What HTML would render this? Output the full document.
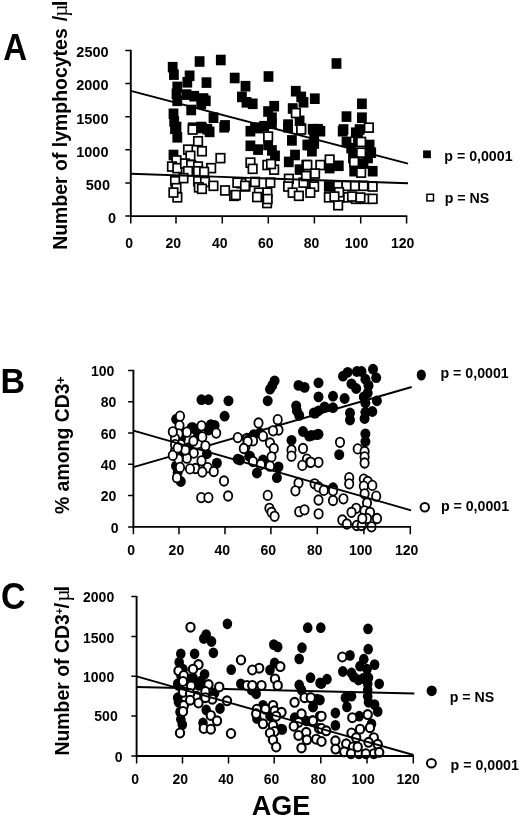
<!DOCTYPE html>
<html lang="en">
<head>
<meta charset="utf-8">
<title>Figure: lymphocytes and CD3+ subsets versus age</title>
<style>
html,body{margin:0;padding:0;background:#fff;}
body{width:520px;height:818px;overflow:hidden;}
svg{display:block;filter:blur(0.3px);font-family:"Liberation Sans",Arial,Helvetica,sans-serif;font-weight:bold;fill:#000;}
.tk{font-size:14px;}
.lg{font-size:14.2px;}
.ax{stroke:#000;stroke-width:1.9;fill:none;}
.ln{stroke:#000;stroke-width:1.9;fill:none;}
.tkm{stroke:#000;stroke-width:1.5;fill:none;}
.fs rect{fill:#000;}
.os rect{fill:#fff;stroke:#000;stroke-width:1.7;}
.fc ellipse{fill:#000;}
.oc ellipse{fill:#fff;stroke:#000;stroke-width:1.8;}
.oc2 ellipse{fill:#fff;stroke:#000;stroke-width:2.1;}
.sym{font-family:"Liberation Serif","DejaVu Serif",serif;font-weight:normal;}
</style>
</head>
<body>
<svg width="520" height="818" viewBox="0 0 520 818">
<rect x="0" y="0" width="520" height="818" fill="#fff"/>

<!-- Panel A -->
<g id="panelA">
<text transform="translate(3.3,59.7) scale(1,1.115)" font-size="33">A</text>
<text transform="translate(66.9,249.8) rotate(-90) scale(0.94,1)" font-size="20.7">Number of lymphocytes</text>
<text transform="translate(66.9,21.3) rotate(-90) scale(0.94,1)" font-size="20.7">/</text>
<text class="sym" transform="translate(67.2,16.8) rotate(-90) scale(1.0,1)" font-size="21.5">µ</text>
<text transform="translate(66.9,6.3) rotate(-90) scale(1.0,1)" font-size="20.7">l</text>
<text class="tk" x="108.6" y="56.7" text-anchor="end" style="font-size:14.5px">2500</text>
<text class="tk" x="108.5" y="90.0" text-anchor="end" style="font-size:14.5px">2000</text>
<text class="tk" x="108.5" y="123.6" text-anchor="end" style="font-size:14.5px">1500</text>
<text class="tk" x="108.5" y="156.9" text-anchor="end" style="font-size:14.5px">1000</text>
<text class="tk" x="110" y="189.9" text-anchor="end" style="font-size:14.5px">500</text>
<text class="tk" x="116" y="223.1" text-anchor="end" style="font-size:14.5px">0</text>
<text class="tk" x="129.2" y="247.7" text-anchor="middle">0</text>
<text class="tk" x="173.2" y="247.7" text-anchor="middle">20</text>
<text class="tk" x="219.7" y="247.7" text-anchor="middle">40</text>
<text class="tk" x="265.8" y="247.7" text-anchor="middle">60</text>
<text class="tk" x="311.5" y="247.7" text-anchor="middle">80</text>
<text class="tk" x="356.5" y="247.7" text-anchor="middle">100</text>
<text class="tk" x="402.7" y="247.7" text-anchor="middle">120</text>
<g class="fs">
<rect x="194.7" y="56.2" width="9.8" height="10.6"/>
<rect x="215.9" y="54.7" width="9.8" height="10.6"/>
<rect x="167.8" y="61.9" width="9.8" height="10.6"/>
<rect x="169.0" y="69.3" width="9.8" height="10.6"/>
<rect x="184.7" y="70.5" width="9.8" height="10.6"/>
<rect x="182.4" y="77.0" width="9.8" height="10.6"/>
<rect x="201.6" y="77.3" width="9.8" height="10.6"/>
<rect x="229.8" y="72.7" width="9.8" height="10.6"/>
<rect x="240.6" y="80.9" width="9.8" height="10.6"/>
<rect x="237.0" y="91.6" width="9.8" height="10.6"/>
<rect x="241.6" y="97.0" width="9.8" height="10.6"/>
<rect x="172.4" y="81.6" width="9.8" height="10.6"/>
<rect x="171.6" y="88.5" width="9.8" height="10.6"/>
<rect x="172.4" y="95.5" width="9.8" height="10.6"/>
<rect x="181.6" y="89.3" width="9.8" height="10.6"/>
<rect x="189.3" y="90.9" width="9.8" height="10.6"/>
<rect x="198.6" y="93.2" width="9.8" height="10.6"/>
<rect x="196.3" y="98.5" width="9.8" height="10.6"/>
<rect x="186.3" y="104.7" width="9.8" height="10.6"/>
<rect x="168.6" y="108.5" width="9.8" height="10.6"/>
<rect x="169.3" y="116.2" width="9.8" height="10.6"/>
<rect x="171.6" y="121.7" width="9.8" height="10.6"/>
<rect x="208.6" y="112.4" width="9.8" height="10.6"/>
<rect x="220.1" y="120.1" width="9.8" height="10.6"/>
<rect x="187.8" y="122.4" width="9.8" height="10.6"/>
<rect x="196.3" y="121.7" width="9.8" height="10.6"/>
<rect x="202.4" y="123.9" width="9.8" height="10.6"/>
<rect x="263.6" y="71.2" width="9.8" height="10.6"/>
<rect x="247.8" y="98.5" width="9.8" height="10.6"/>
<rect x="290.9" y="85.9" width="9.8" height="10.6"/>
<rect x="296.3" y="91.6" width="9.8" height="10.6"/>
<rect x="298.6" y="97.0" width="9.8" height="10.6"/>
<rect x="309.9" y="93.4" width="9.8" height="10.6"/>
<rect x="269.3" y="100.9" width="9.8" height="10.6"/>
<rect x="263.2" y="106.2" width="9.8" height="10.6"/>
<rect x="267.0" y="112.4" width="9.8" height="10.6"/>
<rect x="287.8" y="103.2" width="9.8" height="10.6"/>
<rect x="294.7" y="115.5" width="9.8" height="10.6"/>
<rect x="283.2" y="119.3" width="9.8" height="10.6"/>
<rect x="267.0" y="118.5" width="9.8" height="10.6"/>
<rect x="259.3" y="120.9" width="9.8" height="10.6"/>
<rect x="250.1" y="122.4" width="9.8" height="10.6"/>
<rect x="307.8" y="123.9" width="9.8" height="10.6"/>
<rect x="331.6" y="58.2" width="9.8" height="10.6"/>
<rect x="357.0" y="98.5" width="9.8" height="10.6"/>
<rect x="341.6" y="111.3" width="9.8" height="10.6"/>
<rect x="357.0" y="112.4" width="9.8" height="10.6"/>
<rect x="313.1" y="123.9" width="9.8" height="10.6"/>
<rect x="338.6" y="124.2" width="9.8" height="10.6"/>
<rect x="354.7" y="124.2" width="9.8" height="10.6"/>
<rect x="170.1" y="123.5" width="9.8" height="10.6"/>
<rect x="172.4" y="132.0" width="9.8" height="10.6"/>
<rect x="197.0" y="122.7" width="9.8" height="10.6"/>
<rect x="204.7" y="126.6" width="9.8" height="10.6"/>
<rect x="219.3" y="122.0" width="9.8" height="10.6"/>
<rect x="168.6" y="149.7" width="9.8" height="10.6"/>
<rect x="245.5" y="125.9" width="9.8" height="10.6"/>
<rect x="253.9" y="122.8" width="9.8" height="10.6"/>
<rect x="245.5" y="140.5" width="9.8" height="10.6"/>
<rect x="253.2" y="144.3" width="9.8" height="10.6"/>
<rect x="263.2" y="139.7" width="9.8" height="10.6"/>
<rect x="267.0" y="145.1" width="9.8" height="10.6"/>
<rect x="270.1" y="150.5" width="9.8" height="10.6"/>
<rect x="283.2" y="122.0" width="9.8" height="10.6"/>
<rect x="287.0" y="135.1" width="9.8" height="10.6"/>
<rect x="290.1" y="149.7" width="9.8" height="10.6"/>
<rect x="283.9" y="156.6" width="9.8" height="10.6"/>
<rect x="294.7" y="164.3" width="9.8" height="10.6"/>
<rect x="302.4" y="139.7" width="9.8" height="10.6"/>
<rect x="307.0" y="145.9" width="9.8" height="10.6"/>
<rect x="309.3" y="128.9" width="9.8" height="10.6"/>
<rect x="315.5" y="125.9" width="9.8" height="10.6"/>
<rect x="304.7" y="139.7" width="9.8" height="10.6"/>
<rect x="309.3" y="138.2" width="9.8" height="10.6"/>
<rect x="337.8" y="125.9" width="9.8" height="10.6"/>
<rect x="350.9" y="127.4" width="9.8" height="10.6"/>
<rect x="341.6" y="136.6" width="9.8" height="10.6"/>
<rect x="346.3" y="142.8" width="9.8" height="10.6"/>
<rect x="353.1" y="134.7" width="9.8" height="10.6"/>
<rect x="364.7" y="139.7" width="9.8" height="10.6"/>
<rect x="366.3" y="147.4" width="9.8" height="10.6"/>
<rect x="324.7" y="162.8" width="9.8" height="10.6"/>
<rect x="333.9" y="160.5" width="9.8" height="10.6"/>
<rect x="358.6" y="158.2" width="9.8" height="10.6"/>
<rect x="367.8" y="165.9" width="9.8" height="10.6"/>
<rect x="349.3" y="165.9" width="9.8" height="10.6"/>
<rect x="323.9" y="181.2" width="9.8" height="10.6"/>
<rect x="363.1" y="152.7" width="9.8" height="10.6"/>
<rect x="348.1" y="152.7" width="9.8" height="10.6"/>
<rect x="200.9" y="95.5" width="9.8" height="10.6"/>
</g>
<path class="ln" d="M130.8 90.8L408 163.7"/>
<g class="os">
<rect x="291.6" y="108.6" width="8.5" height="8.9"/>
<rect x="296.9" y="124.0" width="8.5" height="8.9"/>
<rect x="364.6" y="123.2" width="8.5" height="8.9"/>
<rect x="188.4" y="125.1" width="8.5" height="8.9"/>
<rect x="193.8" y="136.8" width="8.5" height="8.9"/>
<rect x="183.8" y="145.2" width="8.5" height="8.9"/>
<rect x="197.7" y="146.8" width="8.5" height="8.9"/>
<rect x="186.2" y="151.4" width="8.5" height="8.9"/>
<rect x="172.2" y="156.0" width="8.5" height="8.9"/>
<rect x="216.2" y="153.7" width="8.5" height="8.9"/>
<rect x="167.7" y="162.1" width="8.5" height="8.9"/>
<rect x="173.1" y="163.7" width="8.5" height="8.9"/>
<rect x="180.8" y="159.1" width="8.5" height="8.9"/>
<rect x="186.9" y="160.6" width="8.5" height="8.9"/>
<rect x="193.8" y="162.1" width="8.5" height="8.9"/>
<rect x="206.9" y="163.7" width="8.5" height="8.9"/>
<rect x="183.8" y="166.8" width="8.5" height="8.9"/>
<rect x="193.8" y="166.8" width="8.5" height="8.9"/>
<rect x="199.9" y="167.5" width="8.5" height="8.9"/>
<rect x="179.2" y="173.7" width="8.5" height="8.9"/>
<rect x="170.8" y="176.8" width="8.5" height="8.9"/>
<rect x="193.8" y="176.8" width="8.5" height="8.9"/>
<rect x="200.8" y="177.5" width="8.5" height="8.9"/>
<rect x="209.2" y="181.4" width="8.5" height="8.9"/>
<rect x="172.2" y="183.7" width="8.5" height="8.9"/>
<rect x="194.6" y="182.9" width="8.5" height="8.9"/>
<rect x="197.7" y="184.4" width="8.5" height="8.9"/>
<rect x="220.8" y="186.0" width="8.5" height="8.9"/>
<rect x="173.1" y="192.9" width="8.5" height="8.9"/>
<rect x="229.9" y="191.4" width="8.5" height="8.9"/>
<rect x="237.2" y="178.8" width="8.5" height="8.9"/>
<rect x="241.2" y="182.0" width="8.5" height="8.9"/>
<rect x="169.2" y="188.1" width="8.5" height="8.9"/>
<rect x="263.9" y="132.1" width="8.5" height="8.9"/>
<rect x="296.9" y="125.1" width="8.5" height="8.9"/>
<rect x="246.2" y="158.2" width="8.5" height="8.9"/>
<rect x="248.4" y="164.4" width="8.5" height="8.9"/>
<rect x="263.1" y="160.6" width="8.5" height="8.9"/>
<rect x="269.9" y="165.2" width="8.5" height="8.9"/>
<rect x="266.8" y="159.6" width="8.5" height="8.9"/>
<rect x="302.2" y="160.6" width="8.5" height="8.9"/>
<rect x="233.1" y="178.2" width="8.5" height="8.9"/>
<rect x="240.8" y="181.4" width="8.5" height="8.9"/>
<rect x="250.8" y="177.5" width="8.5" height="8.9"/>
<rect x="266.1" y="178.2" width="8.5" height="8.9"/>
<rect x="284.6" y="174.4" width="8.5" height="8.9"/>
<rect x="283.9" y="182.1" width="8.5" height="8.9"/>
<rect x="299.2" y="178.2" width="8.5" height="8.9"/>
<rect x="309.2" y="180.6" width="8.5" height="8.9"/>
<rect x="254.6" y="188.2" width="8.5" height="8.9"/>
<rect x="263.1" y="188.2" width="8.5" height="8.9"/>
<rect x="231.6" y="190.6" width="8.5" height="8.9"/>
<rect x="288.4" y="188.2" width="8.5" height="8.9"/>
<rect x="294.6" y="191.4" width="8.5" height="8.9"/>
<rect x="262.8" y="198.6" width="8.5" height="8.9"/>
<rect x="263.4" y="194.6" width="8.5" height="8.9"/>
<rect x="252.8" y="192.6" width="8.5" height="8.9"/>
<rect x="356.9" y="137.5" width="8.5" height="8.9"/>
<rect x="356.9" y="148.2" width="8.5" height="8.9"/>
<rect x="325.4" y="155.2" width="8.5" height="8.9"/>
<rect x="349.9" y="157.5" width="8.5" height="8.9"/>
<rect x="303.1" y="160.6" width="8.5" height="8.9"/>
<rect x="316.1" y="160.6" width="8.5" height="8.9"/>
<rect x="310.8" y="169.1" width="8.5" height="8.9"/>
<rect x="356.9" y="168.2" width="8.5" height="8.9"/>
<rect x="309.9" y="182.1" width="8.5" height="8.9"/>
<rect x="306.1" y="188.2" width="8.5" height="8.9"/>
<rect x="333.9" y="181.4" width="8.5" height="8.9"/>
<rect x="342.2" y="181.4" width="8.5" height="8.9"/>
<rect x="350.8" y="181.4" width="8.5" height="8.9"/>
<rect x="359.2" y="181.4" width="8.5" height="8.9"/>
<rect x="368.4" y="182.1" width="8.5" height="8.9"/>
<rect x="324.6" y="192.9" width="8.5" height="8.9"/>
<rect x="335.4" y="192.9" width="8.5" height="8.9"/>
<rect x="343.9" y="192.9" width="8.5" height="8.9"/>
<rect x="351.6" y="194.4" width="8.5" height="8.9"/>
<rect x="360.8" y="194.4" width="8.5" height="8.9"/>
<rect x="368.4" y="194.4" width="8.5" height="8.9"/>
<rect x="301.8" y="171.6" width="8.5" height="8.9"/>
<rect x="333.9" y="200.8" width="8.5" height="8.9"/>
<rect x="334.8" y="187.8" width="8.5" height="8.9"/>
<rect x="330.2" y="192.1" width="8.5" height="8.9"/>
<rect x="347.8" y="192.1" width="8.5" height="8.9"/>
<rect x="356.2" y="193.1" width="8.5" height="8.9"/>
</g>
<path class="ax" d="M130.8 49.699999999999996V216.1H407.3"/>
<path class="tkm" d="M125.3 50.4H130.8M125.3 83.5H130.8M125.3 116.7H130.8M125.3 149.8H130.8M125.3 183.0H130.8M125.3 216.1H130.8M130.8 216.1V223.4M176.0 216.1V223.4M222.3 216.1V223.4M268.3 216.1V223.4M314.4 216.1V223.4M360.7 216.1V223.4M406.6 216.1V223.4"/>
<path class="ln" d="M130.8 173.8L408 183.3"/>
<rect x="423.1" y="150.4" width="7.8" height="7.8"/>
<text class="lg" x="444.3" y="161.2">p = 0,0001</text>
<rect x="426.9" y="194.3" width="6.6" height="6.6" fill="#fff" stroke="#000" stroke-width="1.5"/>
<text class="lg" x="444.7" y="203">p = NS</text>
</g>
<!-- Panel B -->
<g id="panelB">
<text transform="translate(0.4,392.9) scale(1,1.05)" font-size="34">B</text>
<text transform="translate(68.9,514.1) rotate(-90) scale(0.958,1)" font-size="20.3">% among CD3</text>
<text transform="translate(64.5,384.1) rotate(-90) scale(1.0,1)" font-size="13">+</text>
<text class="tk" x="114.3" y="376.1" text-anchor="end">100</text>
<text class="tk" x="116.3" y="407.4" text-anchor="end">80</text>
<text class="tk" x="116.3" y="438.7" text-anchor="end">60</text>
<text class="tk" x="116.3" y="469.9" text-anchor="end">40</text>
<text class="tk" x="116.3" y="501.2" text-anchor="end">20</text>
<text class="tk" x="118.5" y="532.5" text-anchor="end">0</text>
<text class="tk" x="131.2" y="554.6" text-anchor="middle">0</text>
<text class="tk" x="176.4" y="554.6" text-anchor="middle">20</text>
<text class="tk" x="222.3" y="554.6" text-anchor="middle">40</text>
<text class="tk" x="268.3" y="554.6" text-anchor="middle">60</text>
<text class="tk" x="314.8" y="554.6" text-anchor="middle">80</text>
<text class="tk" x="360.6" y="554.6" text-anchor="middle">100</text>
<text class="tk" x="406.6" y="554.6" text-anchor="middle">120</text>
<g class="fc">
<ellipse cx="201.5" cy="399.7" rx="5.0" ry="5.4"/>
<ellipse cx="208.5" cy="399.7" rx="5.0" ry="5.4"/>
<ellipse cx="228.5" cy="400.8" rx="5.0" ry="5.4"/>
<ellipse cx="224.6" cy="416.2" rx="5.0" ry="5.4"/>
<ellipse cx="176.2" cy="419.2" rx="5.0" ry="5.4"/>
<ellipse cx="191.5" cy="427.7" rx="5.0" ry="5.4"/>
<ellipse cx="210.8" cy="424.6" rx="5.0" ry="5.4"/>
<ellipse cx="214.6" cy="425.4" rx="5.0" ry="5.4"/>
<ellipse cx="196.0" cy="430.0" rx="5.0" ry="5.4"/>
<ellipse cx="208.5" cy="430.0" rx="5.0" ry="5.4"/>
<ellipse cx="193.0" cy="427.7" rx="5.0" ry="5.4"/>
<ellipse cx="211.5" cy="425.4" rx="5.0" ry="5.4"/>
<ellipse cx="206.9" cy="453.8" rx="5.0" ry="5.4"/>
<ellipse cx="183.8" cy="451.5" rx="5.0" ry="5.4"/>
<ellipse cx="216.9" cy="463.1" rx="5.0" ry="5.4"/>
<ellipse cx="237.7" cy="459.2" rx="5.0" ry="5.4"/>
<ellipse cx="249.2" cy="456.2" rx="5.0" ry="5.4"/>
<ellipse cx="177.7" cy="472.3" rx="5.0" ry="5.4"/>
<ellipse cx="180.8" cy="481.5" rx="5.0" ry="5.4"/>
<ellipse cx="176.0" cy="466.0" rx="5.0" ry="5.4"/>
<ellipse cx="188.5" cy="447.7" rx="5.0" ry="5.4"/>
<ellipse cx="198.5" cy="435.4" rx="5.0" ry="5.4"/>
<ellipse cx="274.6" cy="380.8" rx="5.0" ry="5.4"/>
<ellipse cx="272.3" cy="385.4" rx="5.0" ry="5.4"/>
<ellipse cx="270.0" cy="389.2" rx="5.0" ry="5.4"/>
<ellipse cx="267.7" cy="400.8" rx="5.0" ry="5.4"/>
<ellipse cx="298.5" cy="385.4" rx="5.0" ry="5.4"/>
<ellipse cx="304.6" cy="387.4" rx="5.0" ry="5.4"/>
<ellipse cx="318.5" cy="382.8" rx="5.0" ry="5.4"/>
<ellipse cx="318.5" cy="396.9" rx="5.0" ry="5.4"/>
<ellipse cx="296.2" cy="405.8" rx="5.0" ry="5.4"/>
<ellipse cx="296.9" cy="410.8" rx="5.0" ry="5.4"/>
<ellipse cx="299.2" cy="415.4" rx="5.0" ry="5.4"/>
<ellipse cx="315.4" cy="413.1" rx="5.0" ry="5.4"/>
<ellipse cx="303.0" cy="431.5" rx="5.0" ry="5.4"/>
<ellipse cx="309.2" cy="436.2" rx="5.0" ry="5.4"/>
<ellipse cx="316.9" cy="434.6" rx="5.0" ry="5.4"/>
<ellipse cx="291.5" cy="440.3" rx="5.0" ry="5.4"/>
<ellipse cx="253.8" cy="434.6" rx="5.0" ry="5.4"/>
<ellipse cx="260.0" cy="433.0" rx="5.0" ry="5.4"/>
<ellipse cx="250.0" cy="456.2" rx="5.0" ry="5.4"/>
<ellipse cx="263.0" cy="460.0" rx="5.0" ry="5.4"/>
<ellipse cx="278.5" cy="466.9" rx="5.0" ry="5.4"/>
<ellipse cx="256.9" cy="473.0" rx="5.0" ry="5.4"/>
<ellipse cx="276.9" cy="477.7" rx="5.0" ry="5.4"/>
<ellipse cx="240.0" cy="460.0" rx="5.0" ry="5.4"/>
<ellipse cx="333.0" cy="396.2" rx="5.0" ry="5.4"/>
<ellipse cx="344.6" cy="398.5" rx="5.0" ry="5.4"/>
<ellipse cx="324.6" cy="406.9" rx="5.0" ry="5.4"/>
<ellipse cx="333.0" cy="407.7" rx="5.0" ry="5.4"/>
<ellipse cx="318.5" cy="410.8" rx="5.0" ry="5.4"/>
<ellipse cx="313.8" cy="413.0" rx="5.0" ry="5.4"/>
<ellipse cx="343.0" cy="376.2" rx="5.0" ry="5.4"/>
<ellipse cx="347.7" cy="372.3" rx="5.0" ry="5.4"/>
<ellipse cx="356.9" cy="371.5" rx="5.0" ry="5.4"/>
<ellipse cx="361.5" cy="371.5" rx="5.0" ry="5.4"/>
<ellipse cx="373.0" cy="369.2" rx="5.0" ry="5.4"/>
<ellipse cx="376.2" cy="377.7" rx="5.0" ry="5.4"/>
<ellipse cx="365.4" cy="379.2" rx="5.0" ry="5.4"/>
<ellipse cx="351.5" cy="383.8" rx="5.0" ry="5.4"/>
<ellipse cx="356.2" cy="388.5" rx="5.0" ry="5.4"/>
<ellipse cx="368.5" cy="385.4" rx="5.0" ry="5.4"/>
<ellipse cx="367.7" cy="393.0" rx="5.0" ry="5.4"/>
<ellipse cx="363.8" cy="396.9" rx="5.0" ry="5.4"/>
<ellipse cx="365.4" cy="403.0" rx="5.0" ry="5.4"/>
<ellipse cx="376.9" cy="400.8" rx="5.0" ry="5.4"/>
<ellipse cx="372.3" cy="411.5" rx="5.0" ry="5.4"/>
<ellipse cx="365.4" cy="412.3" rx="5.0" ry="5.4"/>
<ellipse cx="364.6" cy="418.5" rx="5.0" ry="5.4"/>
<ellipse cx="350.0" cy="413.0" rx="5.0" ry="5.4"/>
<ellipse cx="350.0" cy="420.0" rx="5.0" ry="5.4"/>
<ellipse cx="365.4" cy="433.8" rx="5.0" ry="5.4"/>
<ellipse cx="318.5" cy="434.2" rx="5.0" ry="5.4"/>
<ellipse cx="311.5" cy="435.4" rx="5.0" ry="5.4"/>
<ellipse cx="365.4" cy="441.5" rx="5.0" ry="5.4"/>
<ellipse cx="339.2" cy="454.6" rx="5.0" ry="5.4"/>
<ellipse cx="333.0" cy="487.7" rx="5.0" ry="5.4"/>
<ellipse cx="181.0" cy="438.5" rx="5.0" ry="5.4"/>
<ellipse cx="179.0" cy="455.0" rx="5.0" ry="5.4"/>
</g>
<path class="ln" d="M133.4 467.1L411.7 387"/>
<g class="oc">
<ellipse cx="180.0" cy="416.2" rx="4.15" ry="4.75"/>
<ellipse cx="179.5" cy="425.6" rx="4.15" ry="4.75"/>
<ellipse cx="201.5" cy="425.8" rx="4.15" ry="4.75"/>
<ellipse cx="186.9" cy="432.2" rx="4.15" ry="4.75"/>
<ellipse cx="178.5" cy="433.8" rx="4.15" ry="4.75"/>
<ellipse cx="216.2" cy="433.1" rx="4.15" ry="4.75"/>
<ellipse cx="202.3" cy="436.9" rx="4.15" ry="4.75"/>
<ellipse cx="237.7" cy="437.6" rx="4.15" ry="4.75"/>
<ellipse cx="193.4" cy="441.0" rx="4.15" ry="4.75"/>
<ellipse cx="175.0" cy="438.5" rx="4.15" ry="4.75"/>
<ellipse cx="247.0" cy="438.5" rx="4.15" ry="4.75"/>
<ellipse cx="180.7" cy="444.5" rx="4.15" ry="4.75"/>
<ellipse cx="205.4" cy="445.8" rx="4.15" ry="4.75"/>
<ellipse cx="175.0" cy="451.0" rx="4.15" ry="4.75"/>
<ellipse cx="193.8" cy="453.1" rx="4.15" ry="4.75"/>
<ellipse cx="186.9" cy="458.2" rx="4.15" ry="4.75"/>
<ellipse cx="178.5" cy="459.2" rx="4.15" ry="4.75"/>
<ellipse cx="201.5" cy="460.8" rx="4.15" ry="4.75"/>
<ellipse cx="180.0" cy="467.4" rx="4.15" ry="4.75"/>
<ellipse cx="195.4" cy="468.5" rx="4.15" ry="4.75"/>
<ellipse cx="190.0" cy="468.9" rx="4.15" ry="4.75"/>
<ellipse cx="207.7" cy="467.7" rx="4.15" ry="4.75"/>
<ellipse cx="202.3" cy="472.0" rx="4.15" ry="4.75"/>
<ellipse cx="213.8" cy="471.5" rx="4.15" ry="4.75"/>
<ellipse cx="176.9" cy="477.7" rx="4.15" ry="4.75"/>
<ellipse cx="224.0" cy="481.0" rx="4.15" ry="4.75"/>
<ellipse cx="201.2" cy="497.6" rx="4.15" ry="4.75"/>
<ellipse cx="208.4" cy="497.6" rx="4.15" ry="4.75"/>
<ellipse cx="228.1" cy="496.0" rx="4.15" ry="4.75"/>
<ellipse cx="245.4" cy="447.0" rx="4.15" ry="4.75"/>
<ellipse cx="248.5" cy="440.0" rx="4.15" ry="4.75"/>
<ellipse cx="277.7" cy="419.7" rx="4.15" ry="4.75"/>
<ellipse cx="258.5" cy="423.0" rx="4.15" ry="4.75"/>
<ellipse cx="278.5" cy="430.0" rx="4.15" ry="4.75"/>
<ellipse cx="273.0" cy="430.8" rx="4.15" ry="4.75"/>
<ellipse cx="263.0" cy="436.2" rx="4.15" ry="4.75"/>
<ellipse cx="253.0" cy="440.8" rx="4.15" ry="4.75"/>
<ellipse cx="247.7" cy="441.5" rx="4.15" ry="4.75"/>
<ellipse cx="243.8" cy="448.5" rx="4.15" ry="4.75"/>
<ellipse cx="270.0" cy="443.0" rx="4.15" ry="4.75"/>
<ellipse cx="273.8" cy="448.5" rx="4.15" ry="4.75"/>
<ellipse cx="271.5" cy="456.9" rx="4.15" ry="4.75"/>
<ellipse cx="253.0" cy="461.5" rx="4.15" ry="4.75"/>
<ellipse cx="260.8" cy="464.6" rx="4.15" ry="4.75"/>
<ellipse cx="270.0" cy="466.2" rx="4.15" ry="4.75"/>
<ellipse cx="291.5" cy="450.0" rx="4.15" ry="4.75"/>
<ellipse cx="291.5" cy="456.2" rx="4.15" ry="4.75"/>
<ellipse cx="303.0" cy="448.5" rx="4.15" ry="4.75"/>
<ellipse cx="306.9" cy="459.2" rx="4.15" ry="4.75"/>
<ellipse cx="310.0" cy="462.3" rx="4.15" ry="4.75"/>
<ellipse cx="302.3" cy="465.4" rx="4.15" ry="4.75"/>
<ellipse cx="318.5" cy="462.3" rx="4.15" ry="4.75"/>
<ellipse cx="298.5" cy="483.0" rx="4.15" ry="4.75"/>
<ellipse cx="295.4" cy="490.8" rx="4.15" ry="4.75"/>
<ellipse cx="314.6" cy="483.8" rx="4.15" ry="4.75"/>
<ellipse cx="318.5" cy="486.9" rx="4.15" ry="4.75"/>
<ellipse cx="267.7" cy="495.4" rx="4.15" ry="4.75"/>
<ellipse cx="340.0" cy="442.3" rx="4.15" ry="4.75"/>
<ellipse cx="357.7" cy="448.9" rx="4.15" ry="4.75"/>
<ellipse cx="364.6" cy="451.5" rx="4.15" ry="4.75"/>
<ellipse cx="364.6" cy="456.9" rx="4.15" ry="4.75"/>
<ellipse cx="364.6" cy="463.0" rx="4.15" ry="4.75"/>
<ellipse cx="310.8" cy="462.3" rx="4.15" ry="4.75"/>
<ellipse cx="349.2" cy="477.7" rx="4.15" ry="4.75"/>
<ellipse cx="349.2" cy="483.8" rx="4.15" ry="4.75"/>
<ellipse cx="363.8" cy="479.2" rx="4.15" ry="4.75"/>
<ellipse cx="367.7" cy="481.5" rx="4.15" ry="4.75"/>
<ellipse cx="372.3" cy="485.4" rx="4.15" ry="4.75"/>
<ellipse cx="363.8" cy="486.2" rx="4.15" ry="4.75"/>
<ellipse cx="323.8" cy="490.4" rx="4.15" ry="4.75"/>
<ellipse cx="333.0" cy="490.8" rx="4.15" ry="4.75"/>
<ellipse cx="364.6" cy="493.8" rx="4.15" ry="4.75"/>
<ellipse cx="376.2" cy="496.2" rx="4.15" ry="4.75"/>
<ellipse cx="343.4" cy="498.8" rx="4.15" ry="4.75"/>
<ellipse cx="318.5" cy="500.0" rx="4.15" ry="4.75"/>
<ellipse cx="333.0" cy="500.5" rx="4.15" ry="4.75"/>
<ellipse cx="269.4" cy="508.3" rx="4.15" ry="4.75"/>
<ellipse cx="271.5" cy="512.3" rx="4.15" ry="4.75"/>
<ellipse cx="274.6" cy="516.3" rx="4.15" ry="4.75"/>
<ellipse cx="299.2" cy="511.7" rx="4.15" ry="4.75"/>
<ellipse cx="304.5" cy="509.8" rx="4.15" ry="4.75"/>
<ellipse cx="318.6" cy="513.8" rx="4.15" ry="4.75"/>
<ellipse cx="367.0" cy="503.0" rx="4.15" ry="4.75"/>
<ellipse cx="356.2" cy="508.3" rx="4.15" ry="4.75"/>
<ellipse cx="351.5" cy="512.3" rx="4.15" ry="4.75"/>
<ellipse cx="364.5" cy="510.8" rx="4.15" ry="4.75"/>
<ellipse cx="370.0" cy="512.3" rx="4.15" ry="4.75"/>
<ellipse cx="377.0" cy="518.5" rx="4.15" ry="4.75"/>
<ellipse cx="367.0" cy="518.5" rx="4.15" ry="4.75"/>
<ellipse cx="342.3" cy="520.0" rx="4.15" ry="4.75"/>
<ellipse cx="346.9" cy="524.0" rx="4.15" ry="4.75"/>
<ellipse cx="356.8" cy="525.5" rx="4.15" ry="4.75"/>
<ellipse cx="361.7" cy="525.5" rx="4.15" ry="4.75"/>
<ellipse cx="371.5" cy="526.8" rx="4.15" ry="4.75"/>
<ellipse cx="362.3" cy="518.5" rx="4.15" ry="4.75"/>
<ellipse cx="172.8" cy="431.8" rx="4.15" ry="4.75"/>
<ellipse cx="175.0" cy="444.6" rx="4.15" ry="4.75"/>
<ellipse cx="185.3" cy="450.0" rx="4.15" ry="4.75"/>
<ellipse cx="172.8" cy="455.4" rx="4.15" ry="4.75"/>
<ellipse cx="177.7" cy="447.9" rx="4.15" ry="4.75"/>
</g>
<path class="ax" d="M133.4 369.8V526.9H411.0"/>
<path class="tkm" d="M128.1 370.5H133.4M128.1 401.8H133.4M128.1 433.1H133.4M128.1 464.3H133.4M128.1 495.6H133.4M128.1 526.9H133.4M133.4 526.9V534.3M179.0 526.9V534.3M225.0 526.9V534.3M270.9 526.9V534.3M317.3 526.9V534.3M363.9 526.9V534.3M410.3 526.9V534.3"/>
<path class="ln" d="M133.4 430.6L411.1 510.3"/>
<ellipse cx="421.3" cy="375" rx="4.6" ry="5.5"/>
<text class="lg" x="440.5" y="378">p = 0,0001</text>
<ellipse cx="424.8" cy="507.3" rx="4.2" ry="4.3" fill="#fff" stroke="#000" stroke-width="2"/>
<text class="lg" x="440.9" y="510.8">p = 0,0001</text>
</g>
<!-- Panel C -->
<g id="panelC">
<text transform="translate(1.0,609.3) scale(1,1.06)" font-size="34">C</text>
<text transform="translate(68.9,755.6) rotate(-90) scale(0.958,1)" font-size="20.3">Number of CD3</text>
<text transform="translate(63.2,614.3) rotate(-90) scale(1.0,1)" font-size="10.5">+</text>
<text transform="translate(68.9,608.6) rotate(-90) scale(1.0,1)" font-size="20.3">/</text>
<text class="sym" transform="translate(69.2,601.6) rotate(-90) scale(1.0,1)" font-size="21">µ</text>
<text transform="translate(68.9,591.6) rotate(-90) scale(1.0,1)" font-size="20.3">l</text>
<text class="tk" x="114.2" y="602.2" text-anchor="end">2000</text>
<text class="tk" x="114.2" y="642.6" text-anchor="end">1500</text>
<text class="tk" x="114.2" y="682.4" text-anchor="end">1000</text>
<text class="tk" x="117.7" y="721.1" text-anchor="end">500</text>
<text class="tk" x="122.5" y="761.8" text-anchor="end">0</text>
<text class="tk" x="135.2" y="783.8" text-anchor="middle">0</text>
<text class="tk" x="180.2" y="783.8" text-anchor="middle">20</text>
<text class="tk" x="226.0" y="783.8" text-anchor="middle">40</text>
<text class="tk" x="271.6" y="783.8" text-anchor="middle">60</text>
<text class="tk" x="318.4" y="783.8" text-anchor="middle">80</text>
<text class="tk" x="363.2" y="783.8" text-anchor="middle">100</text>
<text class="tk" x="408.1" y="783.8" text-anchor="middle">120</text>
<g class="fc">
<ellipse cx="227.4" cy="623.8" rx="4.8" ry="5.4"/>
<ellipse cx="206.2" cy="634.6" rx="4.8" ry="5.4"/>
<ellipse cx="203.8" cy="638.5" rx="4.8" ry="5.4"/>
<ellipse cx="211.5" cy="641.5" rx="4.8" ry="5.4"/>
<ellipse cx="213.4" cy="652.8" rx="4.8" ry="5.4"/>
<ellipse cx="180.8" cy="653.8" rx="4.8" ry="5.4"/>
<ellipse cx="194.6" cy="653.8" rx="4.8" ry="5.4"/>
<ellipse cx="179.2" cy="662.3" rx="4.8" ry="5.4"/>
<ellipse cx="231.2" cy="669.7" rx="4.8" ry="5.4"/>
<ellipse cx="204.6" cy="674.3" rx="4.8" ry="5.4"/>
<ellipse cx="183.0" cy="669.2" rx="4.8" ry="5.4"/>
<ellipse cx="193.0" cy="677.7" rx="4.8" ry="5.4"/>
<ellipse cx="240.8" cy="683.8" rx="4.8" ry="5.4"/>
<ellipse cx="177.7" cy="683.8" rx="4.8" ry="5.4"/>
<ellipse cx="196.2" cy="683.8" rx="4.8" ry="5.4"/>
<ellipse cx="201.0" cy="681.0" rx="4.8" ry="5.4"/>
<ellipse cx="190.0" cy="679.2" rx="4.8" ry="5.4"/>
<ellipse cx="199.2" cy="685.4" rx="4.8" ry="5.4"/>
<ellipse cx="214.6" cy="693.0" rx="4.8" ry="5.4"/>
<ellipse cx="220.0" cy="708.5" rx="4.8" ry="5.4"/>
<ellipse cx="206.2" cy="710.0" rx="4.8" ry="5.4"/>
<ellipse cx="178.5" cy="702.3" rx="4.8" ry="5.4"/>
<ellipse cx="180.8" cy="719.2" rx="4.8" ry="5.4"/>
<ellipse cx="182.3" cy="724.6" rx="4.8" ry="5.4"/>
<ellipse cx="203.0" cy="723.0" rx="4.8" ry="5.4"/>
<ellipse cx="178.5" cy="685.4" rx="4.8" ry="5.4"/>
<ellipse cx="177.7" cy="697.7" rx="4.8" ry="5.4"/>
<ellipse cx="180.0" cy="712.0" rx="4.8" ry="5.4"/>
<ellipse cx="181.0" cy="676.0" rx="4.8" ry="5.4"/>
<ellipse cx="307.7" cy="627.7" rx="4.8" ry="5.4"/>
<ellipse cx="320.8" cy="627.7" rx="4.8" ry="5.4"/>
<ellipse cx="273.8" cy="644.6" rx="4.8" ry="5.4"/>
<ellipse cx="277.7" cy="646.9" rx="4.8" ry="5.4"/>
<ellipse cx="302.0" cy="647.7" rx="4.8" ry="5.4"/>
<ellipse cx="299.2" cy="658.9" rx="4.8" ry="5.4"/>
<ellipse cx="274.6" cy="663.0" rx="4.8" ry="5.4"/>
<ellipse cx="270.0" cy="670.0" rx="4.8" ry="5.4"/>
<ellipse cx="310.5" cy="677.7" rx="4.8" ry="5.4"/>
<ellipse cx="299.2" cy="685.0" rx="4.8" ry="5.4"/>
<ellipse cx="320.0" cy="683.0" rx="4.8" ry="5.4"/>
<ellipse cx="256.2" cy="693.8" rx="4.8" ry="5.4"/>
<ellipse cx="251.5" cy="690.0" rx="4.8" ry="5.4"/>
<ellipse cx="301.5" cy="690.0" rx="4.8" ry="5.4"/>
<ellipse cx="313.0" cy="706.9" rx="4.8" ry="5.4"/>
<ellipse cx="317.0" cy="699.2" rx="4.8" ry="5.4"/>
<ellipse cx="263.0" cy="705.4" rx="4.8" ry="5.4"/>
<ellipse cx="256.9" cy="718.5" rx="4.8" ry="5.4"/>
<ellipse cx="294.6" cy="717.7" rx="4.8" ry="5.4"/>
<ellipse cx="306.2" cy="720.8" rx="4.8" ry="5.4"/>
<ellipse cx="280.8" cy="729.2" rx="4.8" ry="5.4"/>
<ellipse cx="270.0" cy="716.0" rx="4.8" ry="5.4"/>
<ellipse cx="368.0" cy="628.9" rx="4.8" ry="5.4"/>
<ellipse cx="368.2" cy="649.2" rx="4.8" ry="5.4"/>
<ellipse cx="350.0" cy="655.4" rx="4.8" ry="5.4"/>
<ellipse cx="363.8" cy="659.2" rx="4.8" ry="5.4"/>
<ellipse cx="374.6" cy="664.6" rx="4.8" ry="5.4"/>
<ellipse cx="360.0" cy="666.2" rx="4.8" ry="5.4"/>
<ellipse cx="367.0" cy="669.2" rx="4.8" ry="5.4"/>
<ellipse cx="342.8" cy="671.5" rx="4.8" ry="5.4"/>
<ellipse cx="351.5" cy="673.0" rx="4.8" ry="5.4"/>
<ellipse cx="353.8" cy="677.0" rx="4.8" ry="5.4"/>
<ellipse cx="358.5" cy="680.0" rx="4.8" ry="5.4"/>
<ellipse cx="368.5" cy="677.7" rx="4.8" ry="5.4"/>
<ellipse cx="367.7" cy="683.8" rx="4.8" ry="5.4"/>
<ellipse cx="379.2" cy="683.8" rx="4.8" ry="5.4"/>
<ellipse cx="327.0" cy="679.2" rx="4.8" ry="5.4"/>
<ellipse cx="321.5" cy="683.5" rx="4.8" ry="5.4"/>
<ellipse cx="367.7" cy="690.0" rx="4.8" ry="5.4"/>
<ellipse cx="367.7" cy="696.2" rx="4.8" ry="5.4"/>
<ellipse cx="368.5" cy="702.3" rx="4.8" ry="5.4"/>
<ellipse cx="374.6" cy="704.6" rx="4.8" ry="5.4"/>
<ellipse cx="377.7" cy="711.5" rx="4.8" ry="5.4"/>
<ellipse cx="351.5" cy="696.2" rx="4.8" ry="5.4"/>
<ellipse cx="345.4" cy="697.7" rx="4.8" ry="5.4"/>
<ellipse cx="346.9" cy="706.9" rx="4.8" ry="5.4"/>
<ellipse cx="320.0" cy="700.0" rx="4.8" ry="5.4"/>
<ellipse cx="313.0" cy="706.9" rx="4.8" ry="5.4"/>
<ellipse cx="335.4" cy="713.0" rx="4.8" ry="5.4"/>
<ellipse cx="335.4" cy="725.4" rx="4.8" ry="5.4"/>
<ellipse cx="359.2" cy="716.2" rx="4.8" ry="5.4"/>
<ellipse cx="371.5" cy="723.8" rx="4.8" ry="5.4"/>
<ellipse cx="282.3" cy="729.4" rx="4.8" ry="5.4"/>
<ellipse cx="363.0" cy="678.5" rx="4.8" ry="5.4"/>
</g>
<path class="ln" d="M136.6 687L414.3 693.5"/>
<g class="oc2">
<ellipse cx="190.5" cy="627.2" rx="4.15" ry="4.45"/>
<ellipse cx="241.0" cy="660.0" rx="4.15" ry="4.45"/>
<ellipse cx="198.5" cy="664.6" rx="4.15" ry="4.45"/>
<ellipse cx="193.0" cy="669.2" rx="4.15" ry="4.45"/>
<ellipse cx="178.5" cy="670.8" rx="4.15" ry="4.45"/>
<ellipse cx="183.8" cy="675.4" rx="4.15" ry="4.45"/>
<ellipse cx="183.0" cy="681.5" rx="4.15" ry="4.45"/>
<ellipse cx="208.5" cy="684.6" rx="4.15" ry="4.45"/>
<ellipse cx="219.2" cy="686.9" rx="4.15" ry="4.45"/>
<ellipse cx="247.0" cy="685.4" rx="4.15" ry="4.45"/>
<ellipse cx="205.4" cy="691.5" rx="4.15" ry="4.45"/>
<ellipse cx="183.0" cy="692.3" rx="4.15" ry="4.45"/>
<ellipse cx="196.2" cy="696.2" rx="4.15" ry="4.45"/>
<ellipse cx="212.3" cy="699.2" rx="4.15" ry="4.45"/>
<ellipse cx="227.0" cy="700.8" rx="4.15" ry="4.45"/>
<ellipse cx="198.5" cy="703.0" rx="4.15" ry="4.45"/>
<ellipse cx="205.4" cy="697.7" rx="4.15" ry="4.45"/>
<ellipse cx="183.8" cy="705.4" rx="4.15" ry="4.45"/>
<ellipse cx="183.0" cy="711.5" rx="4.15" ry="4.45"/>
<ellipse cx="210.8" cy="715.4" rx="4.15" ry="4.45"/>
<ellipse cx="217.0" cy="720.8" rx="4.15" ry="4.45"/>
<ellipse cx="203.8" cy="728.5" rx="4.15" ry="4.45"/>
<ellipse cx="210.8" cy="729.2" rx="4.15" ry="4.45"/>
<ellipse cx="180.0" cy="733.0" rx="4.15" ry="4.45"/>
<ellipse cx="231.0" cy="733.5" rx="4.15" ry="4.45"/>
<ellipse cx="259.2" cy="668.2" rx="4.15" ry="4.45"/>
<ellipse cx="252.3" cy="670.0" rx="4.15" ry="4.45"/>
<ellipse cx="280.3" cy="666.6" rx="4.15" ry="4.45"/>
<ellipse cx="275.0" cy="678.9" rx="4.15" ry="4.45"/>
<ellipse cx="277.7" cy="685.4" rx="4.15" ry="4.45"/>
<ellipse cx="261.5" cy="685.4" rx="4.15" ry="4.45"/>
<ellipse cx="252.3" cy="685.4" rx="4.15" ry="4.45"/>
<ellipse cx="310.0" cy="697.7" rx="4.15" ry="4.45"/>
<ellipse cx="304.6" cy="697.7" rx="4.15" ry="4.45"/>
<ellipse cx="294.6" cy="702.3" rx="4.15" ry="4.45"/>
<ellipse cx="273.0" cy="705.4" rx="4.15" ry="4.45"/>
<ellipse cx="256.9" cy="709.2" rx="4.15" ry="4.45"/>
<ellipse cx="265.4" cy="709.2" rx="4.15" ry="4.45"/>
<ellipse cx="274.6" cy="710.8" rx="4.15" ry="4.45"/>
<ellipse cx="281.5" cy="712.3" rx="4.15" ry="4.45"/>
<ellipse cx="256.2" cy="713.8" rx="4.15" ry="4.45"/>
<ellipse cx="301.5" cy="713.8" rx="4.15" ry="4.45"/>
<ellipse cx="276.2" cy="716.2" rx="4.15" ry="4.45"/>
<ellipse cx="298.5" cy="722.3" rx="4.15" ry="4.45"/>
<ellipse cx="312.3" cy="720.8" rx="4.15" ry="4.45"/>
<ellipse cx="263.0" cy="723.8" rx="4.15" ry="4.45"/>
<ellipse cx="273.0" cy="725.4" rx="4.15" ry="4.45"/>
<ellipse cx="293.8" cy="726.2" rx="4.15" ry="4.45"/>
<ellipse cx="274.6" cy="731.5" rx="4.15" ry="4.45"/>
<ellipse cx="270.0" cy="733.0" rx="4.15" ry="4.45"/>
<ellipse cx="306.2" cy="732.3" rx="4.15" ry="4.45"/>
<ellipse cx="298.5" cy="735.4" rx="4.15" ry="4.45"/>
<ellipse cx="306.9" cy="739.8" rx="4.15" ry="4.45"/>
<ellipse cx="316.2" cy="739.2" rx="4.15" ry="4.45"/>
<ellipse cx="273.0" cy="740.0" rx="4.15" ry="4.45"/>
<ellipse cx="276.2" cy="747.0" rx="4.15" ry="4.45"/>
<ellipse cx="301.5" cy="747.9" rx="4.15" ry="4.45"/>
<ellipse cx="320.0" cy="716.2" rx="4.15" ry="4.45"/>
<ellipse cx="319.2" cy="728.5" rx="4.15" ry="4.45"/>
<ellipse cx="342.3" cy="657.0" rx="4.15" ry="4.45"/>
<ellipse cx="310.8" cy="697.7" rx="4.15" ry="4.45"/>
<ellipse cx="321.5" cy="716.2" rx="4.15" ry="4.45"/>
<ellipse cx="313.0" cy="720.8" rx="4.15" ry="4.45"/>
<ellipse cx="352.3" cy="717.7" rx="4.15" ry="4.45"/>
<ellipse cx="367.7" cy="714.6" rx="4.15" ry="4.45"/>
<ellipse cx="321.5" cy="728.5" rx="4.15" ry="4.45"/>
<ellipse cx="326.2" cy="730.8" rx="4.15" ry="4.45"/>
<ellipse cx="360.0" cy="729.2" rx="4.15" ry="4.45"/>
<ellipse cx="370.0" cy="727.7" rx="4.15" ry="4.45"/>
<ellipse cx="351.5" cy="733.0" rx="4.15" ry="4.45"/>
<ellipse cx="321.5" cy="741.5" rx="4.15" ry="4.45"/>
<ellipse cx="335.4" cy="740.8" rx="4.15" ry="4.45"/>
<ellipse cx="346.2" cy="743.8" rx="4.15" ry="4.45"/>
<ellipse cx="356.2" cy="737.7" rx="4.15" ry="4.45"/>
<ellipse cx="373.8" cy="737.7" rx="4.15" ry="4.45"/>
<ellipse cx="368.5" cy="742.3" rx="4.15" ry="4.45"/>
<ellipse cx="377.7" cy="744.3" rx="4.15" ry="4.45"/>
<ellipse cx="353.0" cy="747.0" rx="4.15" ry="4.45"/>
<ellipse cx="335.6" cy="749.1" rx="4.15" ry="4.45"/>
<ellipse cx="344.2" cy="751.8" rx="4.15" ry="4.45"/>
<ellipse cx="351.0" cy="753.7" rx="4.15" ry="4.45"/>
<ellipse cx="359.0" cy="753.7" rx="4.15" ry="4.45"/>
<ellipse cx="357.7" cy="746.9" rx="4.15" ry="4.45"/>
<ellipse cx="373.9" cy="753.7" rx="4.15" ry="4.45"/>
<ellipse cx="379.2" cy="752.3" rx="4.15" ry="4.45"/>
<ellipse cx="365.8" cy="753.7" rx="4.15" ry="4.45"/>
<ellipse cx="191.1" cy="685.8" rx="4.15" ry="4.45"/>
<ellipse cx="190.1" cy="693.5" rx="4.15" ry="4.45"/>
<ellipse cx="190.1" cy="700.2" rx="4.15" ry="4.45"/>
</g>
<path class="ax" d="M136.6 595.9V756.0H414.0"/>
<path class="tkm" d="M131.3 596.6H136.6M131.3 636.5H136.6M131.3 676.3H136.6M131.3 716.1H136.6M131.3 756.0H136.6M136.6 756.0V763.4M182.5 756.0V763.4M228.5 756.0V763.4M274.2 756.0V763.4M320.8 756.0V763.4M367.0 756.0V763.4M413.3 756.0V763.4"/>
<path class="ln" d="M136.6 676.3L413.5 755"/>
<ellipse cx="431.7" cy="690.8" rx="5.1" ry="5.4"/>
<text class="lg" x="449.7" y="701.5">p = NS</text>
<ellipse cx="431.4" cy="763.3" rx="4.5" ry="4.2" fill="#fff" stroke="#000" stroke-width="2"/>
<text class="lg" x="450.6" y="770.3">p = 0,0001</text>
<text x="251.7" y="815" font-size="27">AGE</text>
</g>
</svg>
</body>
</html>
